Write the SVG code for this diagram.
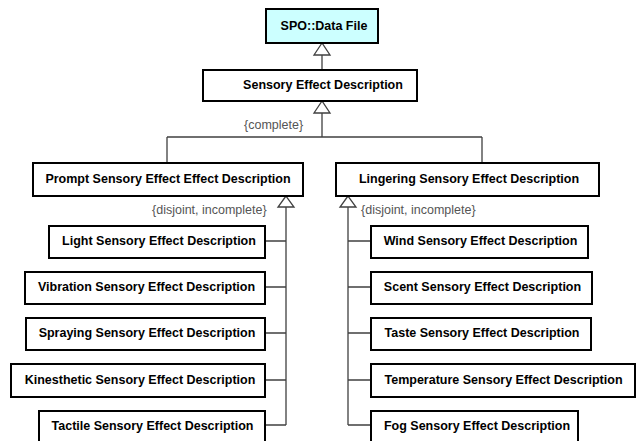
<svg xmlns="http://www.w3.org/2000/svg" width="639" height="441" viewBox="0 0 639 441">
<defs>
<style>
.box{fill:#ffffff;stroke:#000000;stroke-width:2}
.spo{fill:#ccffff;stroke:#000000;stroke-width:2}
.lbl{font-family:"Liberation Sans",Arial,sans-serif;font-size:12.5px;font-weight:bold;fill:#000000;text-anchor:middle}
.note{font-family:"Liberation Sans",Arial,sans-serif;font-size:12.5px;fill:#555555}
.ln{fill:none;stroke:#404040;stroke-width:1.3}
.tri{fill:#ffffff;stroke:#404040;stroke-width:1.3}
</style>
</defs>
<rect width="639" height="441" fill="#ffffff"/>
<g id="connectors">
<path class="ln" d="M322,55 V70"/>
<path class="tri" d="M322,43 L314,55 L330,55 Z"/>
<path class="ln" d="M322,113 V137 M167,137 H482 M167,137 V163 M482,137 V163"/>
<path class="tri" d="M322,101 L314,113 L330,113 Z"/>
<path class="ln" d="M286,207 V425 M265,241 H286 M265,287 H286 M265,333 H286 M265,380 H286 M265,425 H286"/>
<path class="tri" d="M286,196 L278,207 L294,207 Z"/>
<path class="ln" d="M348,207 V425 M348,241 H371 M348,287 H371 M348,333 H371 M348,380 H371 M348,425 H371"/>
<path class="tri" d="M348,196 L340,207 L356,207 Z"/>
<text class="note" x="244" y="128.5">{complete}</text>
<text class="note" x="152" y="213.5">{disjoint, incomplete}</text>
<text class="note" x="361" y="213.5">{disjoint, incomplete}</text>
</g>
<g id="spo-data-file"><rect class="spo" x="266" y="9" width="112" height="34"/><text class="lbl" x="324" y="29.5">SPO::Data File</text></g>
<g id="sensory-effect-description"><rect class="box" x="203" y="70" width="214" height="31"/><text class="lbl" x="323" y="88.5">Sensory Effect Description</text></g>
<g id="prompt"><rect class="box" x="33" y="163" width="270" height="33"/><text class="lbl" x="168" y="182.5">Prompt Sensory Effect Effect Description</text></g>
<g id="lingering"><rect class="box" x="336" y="163" width="263" height="33"/><text class="lbl" x="469" y="182.5">Lingering Sensory Effect Description</text></g>
<g id="light"><rect class="box" x="49" y="226" width="216" height="32"/><text class="lbl" x="159" y="244.5">Light Sensory Effect Description</text></g>
<g id="vibration"><rect class="box" x="25" y="272" width="240" height="32"/><text class="lbl" x="146.5" y="290.5">Vibration Sensory Effect Description</text></g>
<g id="spraying"><rect class="box" x="26" y="318" width="239" height="32"/><text class="lbl" x="147" y="336.5">Spraying Sensory Effect Description</text></g>
<g id="kinesthetic"><rect class="box" x="11" y="364" width="254" height="33"/><text class="lbl" x="140" y="383.5">Kinesthetic Sensory Effect Description</text></g>
<g id="tactile"><rect class="box" x="39" y="411" width="226" height="33"/><text class="lbl" x="152.5" y="429.5">Tactile Sensory Effect Description</text></g>
<g id="wind"><rect class="box" x="371" y="226" width="217" height="32"/><text class="lbl" x="480.5" y="244.5">Wind Sensory Effect Description</text></g>
<g id="scent"><rect class="box" x="371" y="272" width="221" height="32"/><text class="lbl" x="482.5" y="290.5">Scent Sensory Effect Description</text></g>
<g id="taste"><rect class="box" x="371" y="318" width="220" height="32"/><text class="lbl" x="482" y="336.5">Taste Sensory Effect Description</text></g>
<g id="temperature"><rect class="box" x="371" y="364" width="264" height="33"/><text class="lbl" x="503.5" y="383.5">Temperature Sensory Effect Description</text></g>
<g id="fog"><rect class="box" x="371" y="411" width="207" height="33"/><text class="lbl" x="477" y="429.5">Fog Sensory Effect Description</text></g>
</svg>
